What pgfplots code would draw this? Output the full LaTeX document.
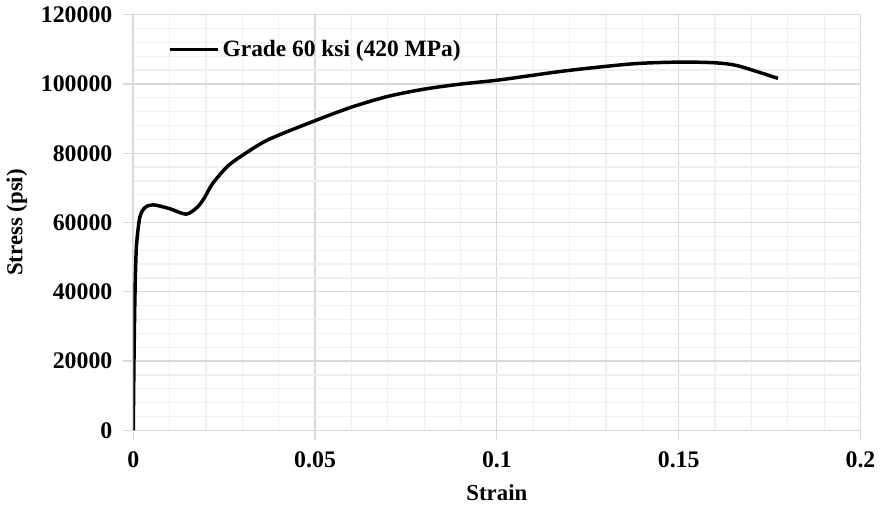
\documentclass[border=0pt]{standalone}
\usepackage{fontspec}
\setmainfont{Liberation Serif}
\usepackage{pgfplots}
\pgfplotsset{compat=1.18}
\definecolor{gridmaj}{HTML}{D9D9D9}
\definecolor{gridmin}{HTML}{EFEFEF}

\begin{document}
\begin{tikzpicture}
\begin{axis}[
    scale only axis,
    width=366.5pt,
    height=209.5pt,
    xmin=0, xmax=0.2,
    ymin=0, ymax=120000,
    scaled y ticks=false,
    scaled x ticks=false,
    xtick={0,0.05,0.1,0.15,0.2},
    xticklabels={0,0.05,0.1,0.15,0.2},
    ytick={0,20000,40000,60000,80000,100000,120000},
    yticklabels={0,20000,40000,60000,80000,100000,120000},
    minor x tick num=4,
    minor y tick num=4,
    grid=both,
    major grid style={draw=gridmaj, line width=0.6pt},
    minor grid style={draw=gridmin, line width=0.6pt},
    axis line style={draw=gridmaj, line width=0.8pt},
    axis x line*=bottom,
    axis y line*=left,
    tick align=outside,
    major tick length=5pt,
    minor tick length=0pt,
    tick style={draw=gridmaj, line width=0.6pt},
    tick label style={font=\fontsize{12}{14}\selectfont\bfseries},
    yticklabel style={xshift=-2pt},
    xticklabel style={yshift=-2pt},
    xlabel={Strain},
    ylabel={Stress (psi)},
    label style={font=\fontsize{11.5}{13}\selectfont\bfseries},
    xlabel style={yshift=-2pt},
    ylabel style={yshift=0pt},
    legend style={at={(0.048,0.916)}, anchor=west, draw=none, fill=none,
        font=\fontsize{11.8}{13}\selectfont\bfseries, inner xsep=0pt,
        nodes={inner sep=1.5pt}},
    legend image code/.code={\draw[line width=1.75pt] (0pt,0pt) -- (24pt,0pt);},
]
\addplot[black, line width=1.75pt, smooth, tension=0.45] coordinates {
    (0,0)
    (0.0002,20000)
    (0.0004,35000)
    (0.0006,45000)
    (0.0009,53600)
    (0.0018,61500)
    (0.0032,64300)
    (0.0055,65100)
    (0.010,64000)
    (0.0145,62400)
    (0.0175,64300)
    (0.0195,67000)
    (0.0218,71200)
    (0.0260,76300)
    (0.0309,80000)
    (0.0373,84000)
    (0.0500,89400)
    (0.060,93300)
    (0.070,96400)
    (0.080,98500)
    (0.090,99950)
    (0.101,101200)
    (0.119,103800)
    (0.1373,105800)
    (0.150,106300)
    (0.160,106100)
    (0.1664,105200)
    (0.1773,101600)
};
\addlegendentry{Grade 60 ksi (420 MPa)}
\end{axis}
\end{tikzpicture}
\end{document}
